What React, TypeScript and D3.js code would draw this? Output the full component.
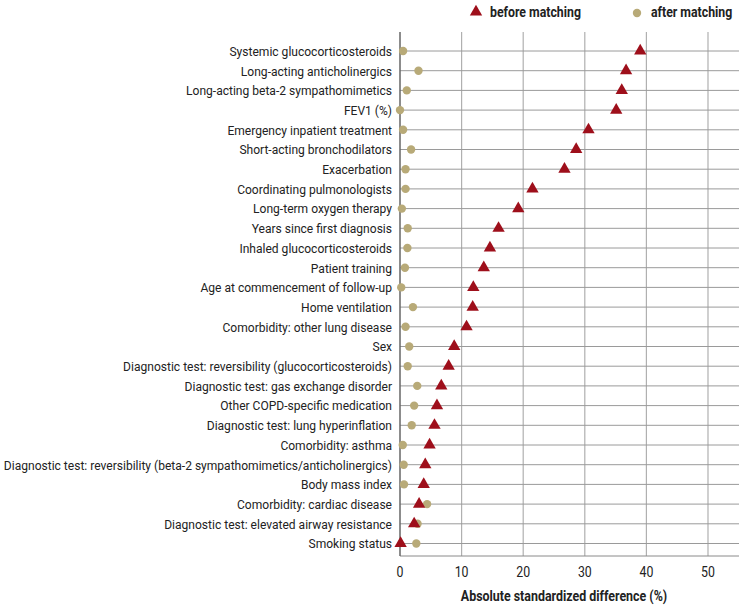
import React from 'react';
import * as d3 from 'd3';

const width = 743,
  height = 608;

const categories = [
  'Systemic glucocorticosteroids',
  'Long-acting anticholinergics',
  'Long-acting beta-2 sympathomimetics',
  'FEV1 (%)',
  'Emergency inpatient treatment',
  'Short-acting bronchodilators',
  'Exacerbation',
  'Coordinating pulmonologists',
  'Long-term oxygen therapy',
  'Years since first diagnosis',
  'Inhaled glucocorticosteroids',
  'Patient training',
  'Age at commencement of follow-up',
  'Home ventilation',
  'Comorbidity: other lung disease',
  'Sex',
  'Diagnostic test: reversibility (glucocorticosteroids)',
  'Diagnostic test: gas exchange disorder',
  'Other COPD-specific medication',
  'Diagnostic test: lung hyperinflation',
  'Comorbidity: asthma',
  'Diagnostic test: reversibility (beta-2 sympathomimetics/anticholinergics)',
  'Body mass index',
  'Comorbidity: cardiac disease',
  'Diagnostic test: elevated airway resistance',
  'Smoking status',
];

const beforeMatching = [
  39.0, 36.7, 36.0, 35.1, 30.6, 28.6, 26.7, 21.5, 19.2, 16.0, 14.6, 13.6, 11.9,
  11.8, 10.8, 8.8, 7.9, 6.7, 6.0, 5.6, 4.8, 4.1, 3.85, 3.1, 2.3, 0.1,
];

const afterMatching = [
  0.5, 3.0, 1.1, 0.0, 0.5, 1.8, 0.9, 0.9, 0.3, 1.25, 1.2, 0.8, 0.2, 2.1, 0.9,
  1.5, 1.25, 2.8, 2.3, 1.9, 0.45, 0.6, 0.65, 4.4, 2.85, 2.65,
];

const xTicks = [0, 10, 20, 30, 40, 50];

const FONT = "Roboto, 'Noto Sans', sans-serif";
const RED = '#9e0f1b';
const KHAKI = '#b8aa78';
const INK = '#222';

const left = 400,
  right = 739,
  top = 32,
  bottom = 556;

// text squeezed horizontally around its anchor point (condensed look)
function CText({ x, y, children, anchor = 'start', size = 13, bold = false, dy = '0', sx = 0.89 }: any) {
  return (
    <text
      transform={'translate(' + x + ',' + y + ') scale(' + sx + ',1)'}
      dy={dy}
      textAnchor={anchor}
      fontSize={size}
      fontWeight={bold ? 'bold' : 'normal'}
      fill={INK}
    >
      {children}
    </text>
  );
}

export default function App() {
  const x = d3.scaleLinear().domain([0, 55]).range([left, left + 55 * 6.16]);
  const y = d3.scalePoint<string>().domain(categories).range([51, 543.5]);

  const triangle = d3.symbol().type(d3.symbolTriangle).size(66)() as string;

  return (
    <svg
      width={width}
      height={height}
      style={{ position: 'absolute', left: 0, top: 0, fontFamily: FONT }}
    >
      {/* legend */}
      <path d={triangle} transform="translate(476,12)" fill={RED} />
      <CText x={490} y={17} size={14} bold sx={0.88}>before matching</CText>
      <circle cx={637} cy={13} r={4.2} fill={KHAKI} />
      <CText x={651} y={17} size={14} bold sx={0.88}>after matching</CText>

      {/* vertical grid */}
      {xTicks.filter((t) => t > 0).map((t) => (
        <line key={'v' + t} x1={x(t)} x2={x(t)} y1={top} y2={bottom} stroke="#b0b0b0" strokeWidth={1.2} />
      ))}

      {/* horizontal grid + labels */}
      {categories.map((c) => (
        <g key={c}>
          <line x1={left} x2={right} y1={y(c)} y2={y(c)} stroke="#9a9a9a" strokeWidth={1} />
          <CText x={392} y={y(c)} dy="0.36em" anchor="end" size={13.5} sx={0.893}>{c}</CText>
        </g>
      ))}

      {/* axes */}
      <line x1={left} x2={right} y1={bottom} y2={bottom} stroke="#8a8a8a" strokeWidth={1} />
      <line x1={left} x2={left} y1={top} y2={bottom} stroke="#666" strokeWidth={1.5} />

      {xTicks.map((t) => (
        <CText key={'t' + t} x={x(t)} y={577} anchor="middle" size={14} sx={0.88}>{t}</CText>
      ))}
      <CText x={564} y={601} anchor="middle" size={14} bold sx={0.888}>Absolute standardized difference (%)</CText>

      {/* after matching */}
      {categories.map((c, i) => (
        <circle key={'a' + c} cx={x(afterMatching[i])} cy={y(c)} r={4.2} fill={KHAKI} />
      ))}

      {/* before matching */}
      {categories.map((c, i) => (
        <path
          key={'b' + c}
          d={triangle}
          transform={'translate(' + x(beforeMatching[i]) + ',' + y(c) + ')'}
          fill={RED}
        />
      ))}
    </svg>
  );
}
